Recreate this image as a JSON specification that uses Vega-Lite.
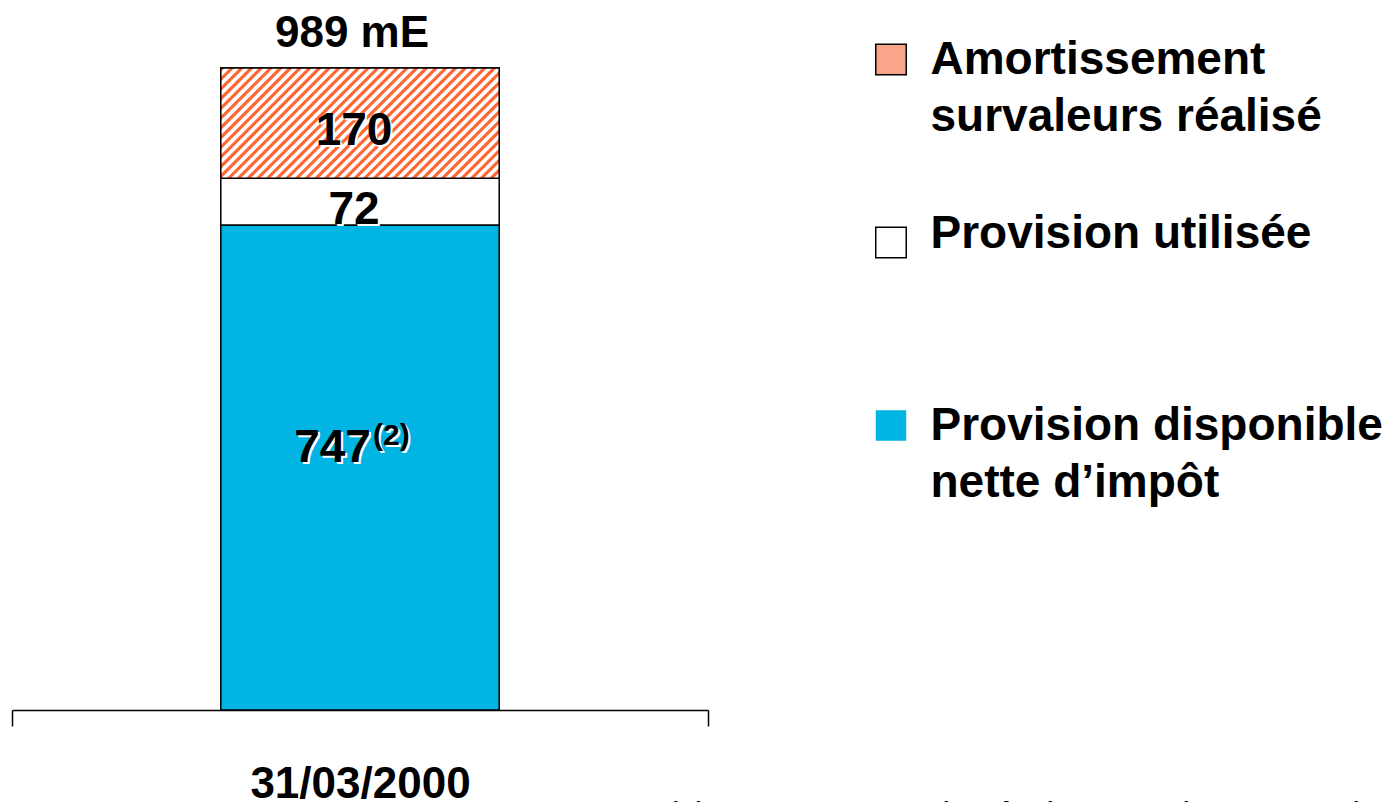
{
  "$schema": "https://vega.github.io/schema/vega-lite/v6.json",
  "autosize": {"type": "none"},
  "width": 696,
  "height": 642,
  "padding": {"left": 12, "top": 68, "right": 682, "bottom": 92},
  "background": "white",
  "config": {"view": {"stroke": null}, "font": "Liberation Sans"},
  "data": {"values": [
    {"date": "31/03/2000", "cat": "Provision disponible nette d’impôt", "value": 747, "order": 1, "note": "(2)"},
    {"date": "31/03/2000", "cat": "Provision utilisée", "value": 72, "order": 2, "note": ""},
    {"date": "31/03/2000", "cat": "Amortissement survaleurs réalisé", "value": 170, "order": 3, "note": ""}
  ]},
  "transform": [
    {"stack": "value", "groupby": ["date"], "sort": [{"field": "order", "order": "ascending"}], "as": ["y0", "y1"]},
    {"calculate": "(datum.y0 + datum.y1) / 2", "as": "ymid"}
  ],
  "encoding": {
    "x": {
      "field": "date", "type": "nominal",
      "scale": {"paddingInner": 0, "paddingOuter": 0},
      "axis": {
        "title": "(1) montant avant impôt des survaleurs amorties",
        "titleX": 651, "titleY": 114, "titleAlign": "left", "titleBaseline": "alphabetic",
        "titleFont": "Liberation Sans", "titleFontSize": 34, "titleFontStyle": "italic", "titleFontWeight": "normal", "titleColor": "black", "titleLimit": 1000,
        "labelAngle": 0, "labelFont": "Liberation Sans", "labelFontSize": 44, "labelFontWeight": "bold", "labelColor": "black", "labelPadding": 36, "labelLimit": 500,
        "tickSize": 16, "tickBand": "extent", "tickColor": "black", "tickWidth": 1.5,
        "domainColor": "black", "domainWidth": 1.5, "grid": false
      }
    }
  },
  "layer": [
    {
      "mark": {"type": "bar", "width": {"band": 0.4}, "stroke": "black", "strokeWidth": 1.5},
      "encoding": {
        "y": {"field": "y1", "type": "quantitative", "scale": {"domain": [0, 989], "nice": false}, "axis": null},
        "y2": {"field": "y0"},
        "color": {
          "field": "cat", "type": "nominal",
          "scale": {"domain": ["Amortissement survaleurs réalisé", "Provision utilisée", "Provision disponible nette d’impôt"], "range": ["#F9A58A", "#FFFFFF", "#00B4E4"]},
          "legend": {
            "orient": "none", "legendX": 856, "legendY": -100, "title": null, "padding": 0,
            "symbolType": "square", "symbolSize": 930, "symbolStrokeColor": "black", "symbolStrokeWidth": 1.5, "symbolOpacity": 1,
            "labelFont": "Liberation Sans", "labelFontSize": 46, "labelFontWeight": "bold", "labelColor": "black", "labelLimit": 700, "labelOffset": 16.5,
            "clipHeight": 183, "rowPadding": 0,
            "labelExpr": "datum.label == 'Amortissement survaleurs réalisé' ? ['Amortissement', 'survaleurs réalisé'] : datum.label == 'Provision utilisée' ? '\u00a0Provision utilisée' : ['Provision disponible', 'nette d’impôt']",
            "encode": {
              "labels": {"update": {
                "lineHeight": {"value": 57},
                "dy": {"signal": "datum.value === 'Provision utilisée' ? -9 : 0"}
              }},
              "symbols": {"update": {
                "stroke": {"signal": "datum.value === 'Provision disponible nette d’impôt' ? 'transparent' : 'black'"}
              }}
            }
          }
        }
      }
    },
    {
      "transform": [{"filter": "datum.order === 3"}],
      "mark": {"type": "bar", "width": {"band": 0.4}, "stroke": "black", "strokeWidth": 1.5,
        "fill": {"gradient": "linear", "x1": 0, "y1": 0, "x2": 1.2068, "y2": 0.4784, "stops": [
          {"offset": 0, "color": "#f63"}, {"offset": 0.008, "color": "#f63"}, {"offset": 0.0115, "color": "#fff"}, {"offset": 0.0215, "color": "#fff"},
          {"offset": 0.025, "color": "#f63"}, {"offset": 0.033, "color": "#f63"}, {"offset": 0.0365, "color": "#fff"}, {"offset": 0.0465, "color": "#fff"},
          {"offset": 0.05, "color": "#f63"}, {"offset": 0.058, "color": "#f63"}, {"offset": 0.0615, "color": "#fff"}, {"offset": 0.0715, "color": "#fff"},
          {"offset": 0.075, "color": "#f63"}, {"offset": 0.083, "color": "#f63"}, {"offset": 0.0865, "color": "#fff"}, {"offset": 0.0965, "color": "#fff"},
          {"offset": 0.1, "color": "#f63"}, {"offset": 0.108, "color": "#f63"}, {"offset": 0.1115, "color": "#fff"}, {"offset": 0.1215, "color": "#fff"},
          {"offset": 0.125, "color": "#f63"}, {"offset": 0.133, "color": "#f63"}, {"offset": 0.1365, "color": "#fff"}, {"offset": 0.1465, "color": "#fff"},
          {"offset": 0.15, "color": "#f63"}, {"offset": 0.158, "color": "#f63"}, {"offset": 0.1615, "color": "#fff"}, {"offset": 0.1715, "color": "#fff"},
          {"offset": 0.175, "color": "#f63"}, {"offset": 0.183, "color": "#f63"}, {"offset": 0.1865, "color": "#fff"}, {"offset": 0.1965, "color": "#fff"},
          {"offset": 0.2, "color": "#f63"}, {"offset": 0.208, "color": "#f63"}, {"offset": 0.2115, "color": "#fff"}, {"offset": 0.2215, "color": "#fff"},
          {"offset": 0.225, "color": "#f63"}, {"offset": 0.233, "color": "#f63"}, {"offset": 0.2365, "color": "#fff"}, {"offset": 0.2465, "color": "#fff"},
          {"offset": 0.25, "color": "#f63"}, {"offset": 0.258, "color": "#f63"}, {"offset": 0.2615, "color": "#fff"}, {"offset": 0.2715, "color": "#fff"},
          {"offset": 0.275, "color": "#f63"}, {"offset": 0.283, "color": "#f63"}, {"offset": 0.2865, "color": "#fff"}, {"offset": 0.2965, "color": "#fff"},
          {"offset": 0.3, "color": "#f63"}, {"offset": 0.308, "color": "#f63"}, {"offset": 0.3115, "color": "#fff"}, {"offset": 0.3215, "color": "#fff"},
          {"offset": 0.325, "color": "#f63"}, {"offset": 0.333, "color": "#f63"}, {"offset": 0.3365, "color": "#fff"}, {"offset": 0.3465, "color": "#fff"},
          {"offset": 0.35, "color": "#f63"}, {"offset": 0.358, "color": "#f63"}, {"offset": 0.3615, "color": "#fff"}, {"offset": 0.3715, "color": "#fff"},
          {"offset": 0.375, "color": "#f63"}, {"offset": 0.383, "color": "#f63"}, {"offset": 0.3865, "color": "#fff"}, {"offset": 0.3965, "color": "#fff"},
          {"offset": 0.4, "color": "#f63"}, {"offset": 0.408, "color": "#f63"}, {"offset": 0.4115, "color": "#fff"}, {"offset": 0.4215, "color": "#fff"},
          {"offset": 0.425, "color": "#f63"}, {"offset": 0.433, "color": "#f63"}, {"offset": 0.4365, "color": "#fff"}, {"offset": 0.4465, "color": "#fff"},
          {"offset": 0.45, "color": "#f63"}, {"offset": 0.458, "color": "#f63"}, {"offset": 0.4615, "color": "#fff"}, {"offset": 0.4715, "color": "#fff"},
          {"offset": 0.475, "color": "#f63"}, {"offset": 0.483, "color": "#f63"}, {"offset": 0.4865, "color": "#fff"}, {"offset": 0.4965, "color": "#fff"},
          {"offset": 0.5, "color": "#f63"}, {"offset": 0.508, "color": "#f63"}, {"offset": 0.5115, "color": "#fff"}, {"offset": 0.5215, "color": "#fff"},
          {"offset": 0.525, "color": "#f63"}, {"offset": 0.533, "color": "#f63"}, {"offset": 0.5365, "color": "#fff"}, {"offset": 0.5465, "color": "#fff"},
          {"offset": 0.55, "color": "#f63"}, {"offset": 0.558, "color": "#f63"}, {"offset": 0.5615, "color": "#fff"}, {"offset": 0.5715, "color": "#fff"},
          {"offset": 0.575, "color": "#f63"}, {"offset": 0.583, "color": "#f63"}, {"offset": 0.5865, "color": "#fff"}, {"offset": 0.5965, "color": "#fff"},
          {"offset": 0.6, "color": "#f63"}, {"offset": 0.608, "color": "#f63"}, {"offset": 0.6115, "color": "#fff"}, {"offset": 0.6215, "color": "#fff"},
          {"offset": 0.625, "color": "#f63"}, {"offset": 0.633, "color": "#f63"}, {"offset": 0.6365, "color": "#fff"}, {"offset": 0.6465, "color": "#fff"},
          {"offset": 0.65, "color": "#f63"}, {"offset": 0.658, "color": "#f63"}, {"offset": 0.6615, "color": "#fff"}, {"offset": 0.6715, "color": "#fff"},
          {"offset": 0.675, "color": "#f63"}, {"offset": 0.683, "color": "#f63"}, {"offset": 0.6865, "color": "#fff"}, {"offset": 0.6965, "color": "#fff"},
          {"offset": 0.7, "color": "#f63"}, {"offset": 0.708, "color": "#f63"}, {"offset": 0.7115, "color": "#fff"}, {"offset": 0.7215, "color": "#fff"},
          {"offset": 0.725, "color": "#f63"}, {"offset": 0.733, "color": "#f63"}, {"offset": 0.7365, "color": "#fff"}, {"offset": 0.7465, "color": "#fff"},
          {"offset": 0.75, "color": "#f63"}, {"offset": 0.758, "color": "#f63"}, {"offset": 0.7615, "color": "#fff"}, {"offset": 0.7715, "color": "#fff"},
          {"offset": 0.775, "color": "#f63"}, {"offset": 0.783, "color": "#f63"}, {"offset": 0.7865, "color": "#fff"}, {"offset": 0.7965, "color": "#fff"},
          {"offset": 0.8, "color": "#f63"}, {"offset": 0.808, "color": "#f63"}, {"offset": 0.8115, "color": "#fff"}, {"offset": 0.8215, "color": "#fff"},
          {"offset": 0.825, "color": "#f63"}, {"offset": 0.833, "color": "#f63"}, {"offset": 0.8365, "color": "#fff"}, {"offset": 0.8465, "color": "#fff"},
          {"offset": 0.85, "color": "#f63"}, {"offset": 0.858, "color": "#f63"}, {"offset": 0.8615, "color": "#fff"}, {"offset": 0.8715, "color": "#fff"},
          {"offset": 0.875, "color": "#f63"}, {"offset": 0.883, "color": "#f63"}, {"offset": 0.8865, "color": "#fff"}, {"offset": 0.8965, "color": "#fff"},
          {"offset": 0.9, "color": "#f63"}, {"offset": 0.908, "color": "#f63"}, {"offset": 0.9115, "color": "#fff"}, {"offset": 0.9215, "color": "#fff"},
          {"offset": 0.925, "color": "#f63"}, {"offset": 0.933, "color": "#f63"}, {"offset": 0.9365, "color": "#fff"}, {"offset": 0.9465, "color": "#fff"},
          {"offset": 0.95, "color": "#f63"}, {"offset": 0.958, "color": "#f63"}, {"offset": 0.9615, "color": "#fff"}, {"offset": 0.9715, "color": "#fff"},
          {"offset": 0.975, "color": "#f63"}, {"offset": 0.983, "color": "#f63"}, {"offset": 0.9865, "color": "#fff"}, {"offset": 0.9965, "color": "#fff"},
          {"offset": 1, "color": "#f63"}
        ]}
      },
      "encoding": {
        "y": {"field": "y1", "type": "quantitative", "scale": {"domain": [0, 989], "nice": false}},
        "y2": {"field": "y0"}
      }
    },
    {
      "transform": [{"filter": "datum.order >= 2"}],
      "mark": {"type": "text", "font": "Liberation Sans", "fontSize": 46, "fontWeight": "bold", "color": "white", "baseline": "middle", "align": "center", "dx": -4, "dy": 10},
      "encoding": {
        "y": {"field": "ymid", "type": "quantitative", "scale": {"domain": [0, 989], "nice": false}},
        "text": {"field": "value", "type": "quantitative"}
      }
    },
    {
      "transform": [{"filter": "datum.order >= 2"}],
      "mark": {"type": "text", "font": "Liberation Sans", "fontSize": 46, "fontWeight": "bold", "color": "black", "baseline": "middle", "align": "center", "dx": -6, "dy": 8},
      "encoding": {
        "y": {"field": "ymid", "type": "quantitative", "scale": {"domain": [0, 989], "nice": false}},
        "text": {"field": "value", "type": "quantitative"}
      }
    },
    {
      "transform": [{"filter": "datum.order === 1"}],
      "mark": {"type": "text", "font": "Liberation Sans", "fontSize": 46, "fontWeight": "bold", "color": "white", "baseline": "middle", "align": "center", "dx": -25.5, "dy": -18},
      "encoding": {
        "y": {"field": "ymid", "type": "quantitative", "scale": {"domain": [0, 989], "nice": false}},
        "text": {"field": "value", "type": "quantitative"}
      }
    },
    {
      "transform": [{"filter": "datum.order === 1"}],
      "mark": {"type": "text", "font": "Liberation Sans", "fontSize": 46, "fontWeight": "bold", "color": "black", "baseline": "middle", "align": "center", "dx": -27.5, "dy": -20},
      "encoding": {
        "y": {"field": "ymid", "type": "quantitative", "scale": {"domain": [0, 989], "nice": false}},
        "text": {"field": "value", "type": "quantitative"}
      }
    },
    {
      "transform": [{"filter": "datum.order === 1"}],
      "mark": {"type": "text", "font": "Liberation Sans", "fontSize": 30, "fontWeight": "bold", "color": "white", "baseline": "middle", "align": "left", "dx": 15, "dy": -29.5},
      "encoding": {
        "y": {"field": "ymid", "type": "quantitative", "scale": {"domain": [0, 989], "nice": false}},
        "text": {"field": "note", "type": "nominal"}
      }
    },
    {
      "transform": [{"filter": "datum.order === 1"}],
      "mark": {"type": "text", "font": "Liberation Sans", "fontSize": 30, "fontWeight": "bold", "color": "black", "baseline": "middle", "align": "left", "dx": 13, "dy": -31.5},
      "encoding": {
        "y": {"field": "ymid", "type": "quantitative", "scale": {"domain": [0, 989], "nice": false}},
        "text": {"field": "note", "type": "nominal"}
      }
    },
    {
      "transform": [
        {"aggregate": [{"op": "sum", "field": "value", "as": "total"}], "groupby": ["date"]},
        {"calculate": "datum.total + ' mE'", "as": "total_label"}
      ],
      "mark": {"type": "text", "font": "Liberation Sans", "fontSize": 44, "fontWeight": "bold", "color": "black", "baseline": "alphabetic", "align": "center", "dx": -8, "dy": -21},
      "encoding": {
        "y": {"field": "total", "type": "quantitative", "scale": {"domain": [0, 989], "nice": false}},
        "text": {"field": "total_label", "type": "nominal"}
      }
    }
  ]
}
